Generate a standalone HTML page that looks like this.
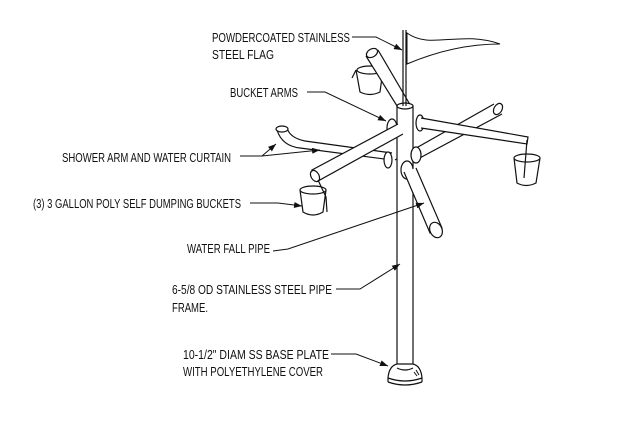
<!DOCTYPE html>
<html><head><style>
html,body{margin:0;padding:0;background:#fff}
svg{display:block}
text{font-family:"Liberation Sans",sans-serif;font-size:13px;fill:#111}
</style></head><body>
<svg width="640" height="428" viewBox="0 0 640 428" xmlns="http://www.w3.org/2000/svg">
<defs><marker id="a" markerWidth="8" markerHeight="6" refX="8" refY="3" orient="auto" markerUnits="userSpaceOnUse"><path d="M0,0 L8,3 L0,6z" fill="#111"/></marker></defs>
<g stroke="#111" stroke-width="1.2" fill="#fff">
<path d="M395,160 L494,104 M401,168 L502,114"/>
<ellipse cx="498" cy="109" rx="4" ry="6" transform="rotate(30 498 109)"/>
<path d="M277,130 Q282,146 300,148 L392,160 M287,128 Q290,138 305,141 L392,153" fill="none"/>
<ellipse cx="282" cy="129" rx="6" ry="3"/>
<path d="M356,70 L360,92 Q370,97 380,92 L383,70" />
<ellipse cx="370" cy="70" rx="13" ry="4"/>
<path d="M356,70 L352,78" fill="none"/>
<path d="M366,56 L402,114 L412,108 L378,50" />
<ellipse cx="372" cy="53" rx="6" ry="4" transform="rotate(-30 372 53)"/>
<rect x="397" y="106" width="16" height="262"/>
<ellipse cx="405" cy="106" rx="8" ry="3"/>
<path d="M403,30 L403,106 M406,30 L406,106" fill="none"/>
<path d="M407,33 C430,50 460,30 500,44 C470,44 440,50 407,64z" stroke-width="1"/>
<ellipse cx="392" cy="128" rx="5" ry="9"/>
<ellipse cx="420" cy="123" rx="4" ry="8"/>
<ellipse cx="388" cy="160" rx="4" ry="8"/>
<ellipse cx="416" cy="155" rx="5" ry="8"/>
<ellipse cx="407" cy="170" rx="6" ry="9"/>
<path d="M421,118 L528,137 L527,144 L421,128"/>
<path d="M514,158 L517,183 Q526,188 536,183 L540,158"/>
<ellipse cx="527" cy="158" rx="13" ry="4"/>
<path d="M527,140 L524,178" fill="none"/>
<path d="M398,124 L312,170 L318,181 L403,134"/>
<ellipse cx="315" cy="176" rx="4" ry="6" transform="rotate(-30 315 176)"/>
<path d="M300,190 L303,212 Q313,218 323,212 L326,190"/>
<ellipse cx="313" cy="190" rx="13" ry="4"/>
<path d="M318,180 L326,197 L327,212" fill="none"/>
<path d="M404,172 L430,233 L442,228 L416,168"/>
<ellipse cx="436" cy="230" rx="6" ry="8" transform="rotate(-25 436 230)"/>
<path d="M388,382 L388,378 Q389,366 397,364 L413,364 Q421,366 422,378 L422,382" />
<path d="M388,382 Q405,388 422,382" fill="none"/>
<path d="M388,378 Q405,384 422,378" fill="none"/>
<path d="M397,368 Q405,372 413,368" fill="none"/>
<path d="M414,372 l3,4 M416,370 l3,5" fill="none" stroke-width="1"/>
</g>
<g stroke="#111" stroke-width="1" fill="none">
<path d="M352,37 L376,37 L402,50" marker-end="url(#a)"/>
<path d="M307,92 L325,92 L386,121" marker-end="url(#a)"/>
<path d="M240,156 L262,156 L276,144" marker-end="url(#a)"/>
<path d="M262,156 L320,150" marker-end="url(#a)"/>
<path d="M250,203 L278,203 L302,206" marker-end="url(#a)"/>
<path d="M273,251 L288,249 L424,203" marker-end="url(#a)"/>
<path d="M336,289 L360,289 L400,264" marker-end="url(#a)"/>
<path d="M331,354 L356,354 L388,366" marker-end="url(#a)"/>
</g>
<text x="212" y="42" textLength="138" lengthAdjust="spacingAndGlyphs">POWDERCOATED STAINLESS</text>
<text x="212" y="59" textLength="62" lengthAdjust="spacingAndGlyphs">STEEL FLAG</text>
<text x="230" y="97" textLength="68" lengthAdjust="spacingAndGlyphs">BUCKET ARMS</text>
<text x="62" y="162" textLength="169" lengthAdjust="spacingAndGlyphs">SHOWER ARM AND WATER CURTAIN</text>
<text x="33" y="208" textLength="208" lengthAdjust="spacingAndGlyphs">(3) 3 GALLON POLY SELF DUMPING BUCKETS</text>
<text x="187" y="253" textLength="83" lengthAdjust="spacingAndGlyphs">WATER FALL PIPE</text>
<text x="172" y="294" textLength="160" lengthAdjust="spacingAndGlyphs">6-5/8 OD STAINLESS STEEL PIPE</text>
<text x="172" y="312" textLength="36" lengthAdjust="spacingAndGlyphs">FRAME.</text>
<text x="183" y="359" textLength="146" lengthAdjust="spacingAndGlyphs">10-1/2" DIAM SS BASE PLATE</text>
<text x="183" y="376" textLength="140" lengthAdjust="spacingAndGlyphs">WITH POLYETHYLENE COVER</text>
</svg>
</body></html>
